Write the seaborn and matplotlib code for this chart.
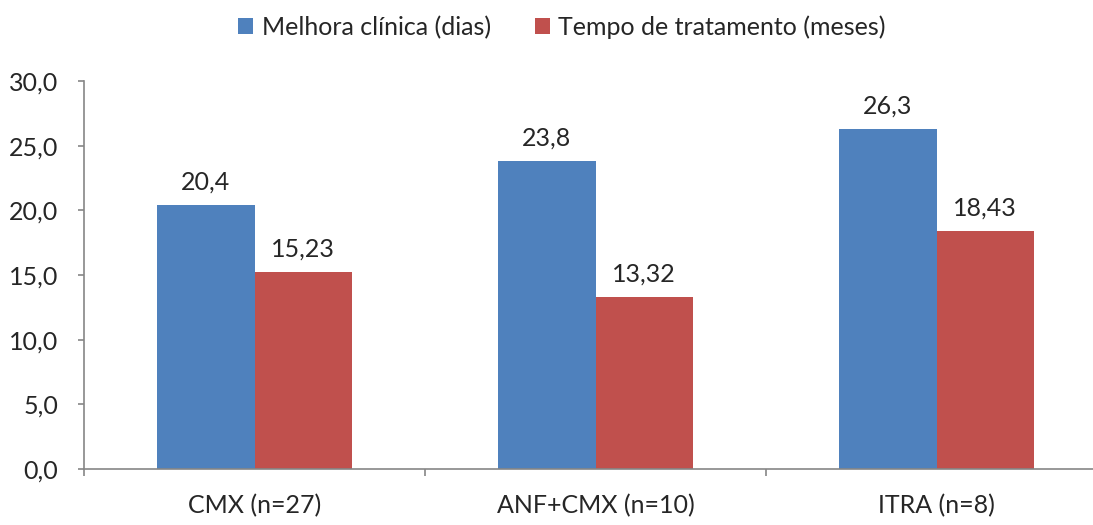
import pandas as pd
import matplotlib
matplotlib.use("Agg")
import matplotlib.pyplot as plt
import seaborn as sns
from matplotlib.ticker import FixedLocator

groups = ["CMX (n=27)", "ANF+CMX (n=10)", "ITRA (n=8)"]
series = ["Melhora clínica (dias)", "Tempo de tratamento (meses)"]
melhora = [20.4, 23.8, 26.3]
tempo = [15.23, 13.32, 18.43]
melhora_labels = ["20,4", "23,8", "26,3"]
tempo_labels = ["15,23", "13,32", "18,43"]
y_ticks = [0, 5, 10, 15, 20, 25, 30]

df = pd.DataFrame({
    "grupo": groups * 2,
    "serie": [series[0]] * 3 + [series[1]] * 3,
    "valor": melhora + tempo,
})

sns.set_style("white")
plt.rcParams["font.family"] = ["Lato", "DejaVu Sans"]
fs = 18

fig = plt.figure(figsize=(10.93, 5.25), dpi=100)
ax = fig.add_axes([84 / 1093, 56 / 525, 1023 / 1093, 388 / 525])

sns.barplot(data=df, x="grupo", y="valor", hue="serie", order=groups,
            hue_order=series, palette=["#4F81BD", "#C0504D"], width=0.57,
            saturation=1, ax=ax, errorbar=None, edgecolor="none", linewidth=0)

ax.bar_label(ax.containers[0], labels=melhora_labels, padding=8, fontsize=fs)
ax.bar_label(ax.containers[1], labels=tempo_labels, padding=8, fontsize=fs)

ax.set_xlim(-0.5, 2.5)
ax.set_ylim(0, 30)
ax.set_yticks(y_ticks)
ax.set_yticklabels([f"{v:.1f}".replace(".", ",") for v in y_ticks], fontsize=fs)
ax.tick_params(axis="y", direction="out", length=4.5, width=1.2, color="#868686",
               pad=14, left=True)
ax.tick_params(axis="x", which="major", length=0, pad=18, labelsize=fs)
ax.xaxis.set_minor_locator(FixedLocator([-0.5, 0.5, 1.5, 2.5]))
ax.tick_params(axis="x", which="minor", direction="out", length=5, width=1.2,
               color="#868686", bottom=True)
ax.set_xlabel("")
ax.set_ylabel("")

for side in ["top", "right"]:
    ax.spines[side].set_visible(False)
for side in ["left", "bottom"]:
    ax.spines[side].set_color("#868686")
    ax.spines[side].set_linewidth(1.2)

ax.legend(loc="center", bbox_to_anchor=((562 - 84) / 1023, 1.139),
          ncol=2, frameon=False, fontsize=fs, handlelength=0.6, handleheight=0.6,
          handletextpad=0.35, columnspacing=1.75)

fig.savefig("out.png", dpi=100)
